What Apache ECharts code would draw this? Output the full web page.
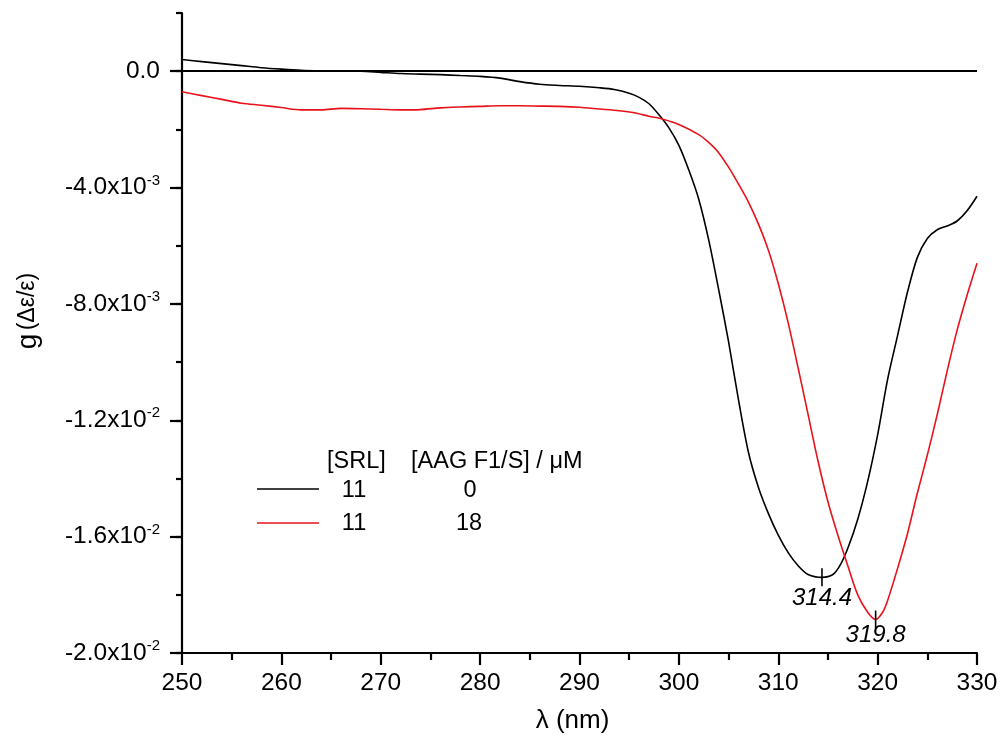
<!DOCTYPE html>
<html>
<head>
<meta charset="utf-8">
<script src="https://cdn.jsdelivr.net/npm/echarts@6/dist/echarts.min.js"></script>
<style>
html,body{margin:0;padding:0;background:#fff;}
#chart{width:1002px;height:747px;}
</style>
</head>
<body>
<div id="chart"></div>
<script>
// ---- data ----
const wlBlack = [250,252,254,256,258,260,262,264,266,268,270,272,274,276,278,280,282,284,286,288,290,292,293.5,295,296,297,298,299,300,301,302,303,304,305,306,307,308,309,310,311,312,313,314.4,315.5,316.2,317,318,319,320,321,322,323,324,325,326,327,328,329,330];
const gBlack = [0.40e-3,0.33e-3,0.26e-3,0.19e-3,0.12e-3,0.07e-3,0.03e-3,0.01e-3,0.0,0.0,-0.04e-3,-0.08e-3,-0.10e-3,-0.12e-3,-0.15e-3,-0.18e-3,-0.24e-3,-0.36e-3,-0.45e-3,-0.49e-3,-0.52e-3,-0.57e-3,-0.63e-3,-0.76e-3,-0.90e-3,-1.12e-3,-1.50e-3,-1.95e-3,-2.55e-3,-3.40e-3,-4.40e-3,-5.80e-3,-7.50e-3,-9.30e-3,-11.3e-3,-13.1e-3,-14.3e-3,-15.2e-3,-15.95e-3,-16.55e-3,-17.0e-3,-17.3e-3,-17.4e-3,-17.3e-3,-17.0e-3,-16.4e-3,-15.4e-3,-14.1e-3,-12.5e-3,-10.6e-3,-9.1e-3,-7.6e-3,-6.4e-3,-5.75e-3,-5.45e-3,-5.32e-3,-5.15e-3,-4.8e-3,-4.3e-3];
const wlRed = [250,252,254,256,258,260,262,264,266,268,270,272,274,276,278,280,282,284,286,288,290,292,294,295.5,297,298.4,300,302,303,304,305,306,307,308,309,310,311,312,313,314,315,316,317,318,319,319.8,320.5,321,322,323,324,325,326,327,328,329,330];
const gRed = [-0.71e-3,-0.84e-3,-0.97e-3,-1.10e-3,-1.17e-3,-1.25e-3,-1.33e-3,-1.33e-3,-1.28e-3,-1.29e-3,-1.31e-3,-1.33e-3,-1.32e-3,-1.26e-3,-1.23e-3,-1.21e-3,-1.19e-3,-1.19e-3,-1.20e-3,-1.21e-3,-1.24e-3,-1.30e-3,-1.36e-3,-1.43e-3,-1.55e-3,-1.65e-3,-1.83e-3,-2.18e-3,-2.45e-3,-2.8e-3,-3.3e-3,-3.88e-3,-4.5e-3,-5.25e-3,-6.15e-3,-7.3e-3,-8.65e-3,-10.2e-3,-11.8e-3,-13.4e-3,-14.8e-3,-15.95e-3,-17.0e-3,-18.0e-3,-18.6e-3,-18.85e-3,-18.6e-3,-18.2e-3,-17.1e-3,-15.9e-3,-14.5e-3,-13.2e-3,-11.8e-3,-10.3e-3,-8.9e-3,-7.7e-3,-6.6e-3];
const peakWl = [314.4, 319.8];
const peakG = [-17.4e-3, -18.85e-3];
const peakLabels = ['314.4', '319.8'];
const xTickLabels = ['250','260','270','280','290','300','310','320','330'];
const yMajorTicks = [-0.02,-0.016,-0.012,-0.008,-0.004,0];
const legendHeader = ['[SRL]', '[AAG F1/S] / μM'];
const legendSRL = ['11','11'];
const legendAAG = ['0','18'];

const FONT = "'Liberation Sans', Arial, sans-serif";
const RED = '#e8121a';

function pairs(xs, ys){ return xs.map((x,i)=>[x, ys[i]]); }

function yFmt(v){
  if (Math.abs(v) < 1e-12) return '{b|0.0}';
  if (v > 0) return '';
  const e = Math.floor(Math.log10(Math.abs(v)) + 1e-9);
  const m = v / Math.pow(10, e);
  return '{b|' + m.toFixed(1) + 'x10}{s|' + e + '}';
}

function peakMark(i, dist){
  return {silent: true, symbol: 'rect', symbolSize: [1.6, 18],
    itemStyle: {color: '#000'},
    data: [{coord: [peakWl[i], peakG[i]], value: peakLabels[i]}],
    label: {show: true, position: 'bottom', distance: dist, color: '#000', fontSize: 24,
      fontStyle: 'italic', fontFamily: FONT, formatter: '{c}'}};
}

const chart = echarts.init(document.getElementById('chart'), null, {renderer:'canvas'});
const option = {
  animation: false,
  backgroundColor: '#fff',
  grid: {left: 182, right: 25, top: 13, bottom: 94, containLabel: false},
  xAxis: {
    type: 'value', min: 250, max: 330, interval: 10,
    name: 'λ (nm)', nameLocation: 'middle', nameGap: 55,
    nameTextStyle: {fontSize: 26, color: '#000', fontFamily: FONT, padding: [0,14,0,0]},
    axisLine: {onZero: false, lineStyle: {color: '#000', width: 2.2}},
    axisTick: {inside: false, length: 12, lineStyle: {color: '#000', width: 2.2}},
    minorTick: {show: true, splitNumber: 2, length: 7, lineStyle: {color: '#000', width: 2.2}},
    splitLine: {show: false}, minorSplitLine: {show: false},
    axisLabel: {color: '#000', fontSize: 24.5, fontFamily: FONT, margin: 18,
      formatter: function(v){ const s = String(Math.round(v)); return xTickLabels.indexOf(s) >= 0 ? s : ''; }}
  },
  yAxis: [{
    type: 'value', min: -0.02, max: 0.002, interval: 0.002,
    axisLine: {onZero: false, lineStyle: {color: '#000', width: 2.2}},
    axisTick: {inside: false, length: 6, lineStyle: {color: '#000', width: 2.2}},
    axisLabel: {show: false},
    splitLine: {show: false},
    name: '{g|g} {p|(Δε/ε)}', nameLocation: 'middle', nameGap: 140, nameRotate: 90,
    nameTextStyle: {color: '#000', fontFamily: FONT, padding: [0,0,0,44],
      rich: {g: {fontSize: 28, fontFamily: FONT, color: '#000'}, p: {fontSize: 23, fontFamily: FONT, color: '#000'}}}
  }, {
    type: 'value', min: -0.02, max: 0.002, interval: 0.004, position: 'left',
    axisLine: {show: false},
    axisTick: {inside: false, length: 12, customValues: yMajorTicks, lineStyle: {color: '#000', width: 2.2}},
    splitLine: {show: false},
    axisLabel: {color: '#000', margin: 22, customValues: yMajorTicks, formatter: yFmt,
      rich: {
        b: {fontSize: 24.5, fontFamily: FONT, color: '#000'},
        s: {fontSize: 15, fontFamily: FONT, color: '#000', padding: [0,0,14,0]}
      }}
  }],
  series: [{
    type: 'line', name: 'black', yAxisIndex: 0, data: pairs(wlBlack, gBlack),
    showSymbol: false, smooth: 0.3, lineStyle: {color: '#000', width: 1.6},
    itemStyle: {color: '#000'}, silent: true,
    markLine: {silent: true, symbol: ['none','none'], animation: false,
      data: [{yAxis: 0}], label: {show: false},
      lineStyle: {color: '#000', width: 2.2, type: 'solid'}},
    markPoint: peakMark(0, 0)
  }, {
    type: 'line', name: 'red', yAxisIndex: 0, data: pairs(wlRed, gRed),
    showSymbol: false, smooth: 0.3, lineStyle: {color: RED, width: 1.6},
    itemStyle: {color: RED}, silent: true,
    markPoint: peakMark(1, -5)
  }],
  graphic: [
    {type: 'text', x: 327, y: 462, style: {text: legendHeader[0], fill: '#000', font: '23.5px ' + FONT, align: 'left', verticalAlign: 'middle'}},
    {type: 'text', x: 411, y: 462, style: {text: legendHeader[1], fill: '#000', font: '23.5px ' + FONT, align: 'left', verticalAlign: 'middle'}},
    {type: 'line', shape: {x1: 257, y1: 489, x2: 319, y2: 489}, style: {stroke: '#000', lineWidth: 1.6}},
    {type: 'line', shape: {x1: 257, y1: 523, x2: 319, y2: 523}, style: {stroke: RED, lineWidth: 1.6}},
    {type: 'text', x: 354, y: 491, style: {text: legendSRL[0], fill: '#000', font: '23.5px ' + FONT, align: 'center', verticalAlign: 'middle'}},
    {type: 'text', x: 354, y: 524, style: {text: legendSRL[1], fill: '#000', font: '23.5px ' + FONT, align: 'center', verticalAlign: 'middle'}},
    {type: 'text', x: 470, y: 491, style: {text: legendAAG[0], fill: '#000', font: '23.5px ' + FONT, align: 'center', verticalAlign: 'middle'}},
    {type: 'text', x: 469, y: 524, style: {text: legendAAG[1], fill: '#000', font: '23.5px ' + FONT, align: 'center', verticalAlign: 'middle'}}
  ]
};
chart.setOption(option);
</script>
</body>
</html>
